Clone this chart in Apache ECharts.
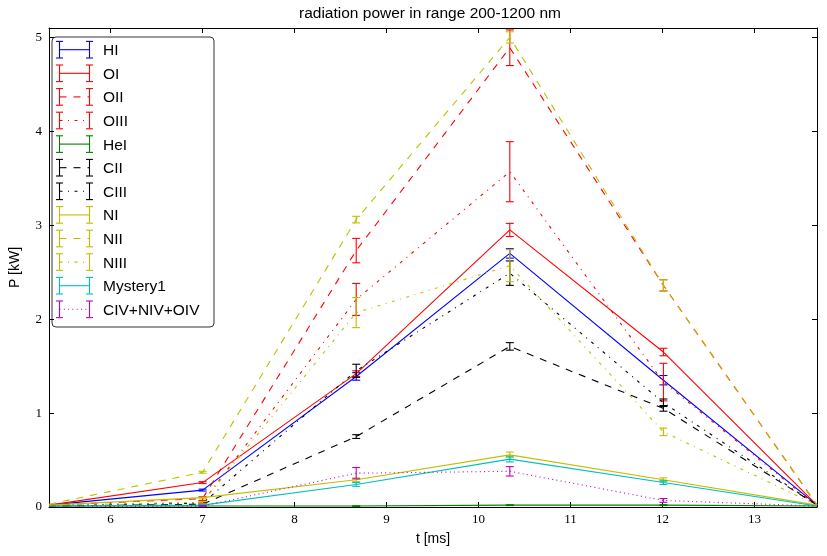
<!DOCTYPE html>
<html>
<head>
<meta charset="utf-8">
<script src="https://cdn.jsdelivr.net/npm/echarts@6/dist/echarts.min.js"></script>
<style>
html,body{margin:0;padding:0;background:#fff;}
#chart{width:827px;height:556px;}
</style>
</head>
<body>
<div id="chart"></div>
<script>
// ---- data ----
const tMs = [5.33, 7.0, 8.67, 10.34, 12.01, 13.68];
const seriesNames = ['HI','OI','OII','OIII','HeI','CII','CIII','NI','NII','NIII','Mystery1','CIV+NIV+OIV'];

const HI        = [0.02, 0.18, 1.39, 2.70, 1.35, 0.02];
const HI_err    = [0, 0.01, 0.04, 0.05, 0.05, 0];
const OI        = [0.02, 0.26, 1.42, 2.95, 1.65, 0.02];
const OI_err    = [0, 0.01, 0.03, 0.07, 0.04, 0];
const OII       = [0.02, 0.09, 2.73, 4.89, 2.36, 0.02];
const OII_err   = [0, 0.02, 0.13, 0.19, 0.06, 0];
const OIII      = [0.01, 0.05, 2.21, 3.57, 1.33, 0.01];
const OIII_err  = [0, 0.02, 0.17, 0.32, 0.20, 0];
const HeI       = [0.01, 0.01, 0.01, 0.02, 0.02, 0.01];
const HeI_err   = [0, 0.003, 0.004, 0.005, 0.005, 0];
const CII       = [0.01, 0.03, 0.75, 1.71, 1.05, 0.02];
const CII_err   = [0, 0.01, 0.02, 0.04, 0.03, 0];
const CIII      = [0.02, 0.04, 1.45, 2.49, 1.11, 0.02];
const CIII_err  = [0, 0.01, 0.07, 0.13, 0.04, 0];
const NI        = [0.02, 0.10, 0.29, 0.555, 0.29, 0.02];
const NI_err    = [0, 0.005, 0.02, 0.03, 0.02, 0];
const NII       = [0.03, 0.37, 3.06, 5.00, 2.36, 0.02];
const NII_err   = [0, 0.01, 0.035, 0.06, 0.06, 0];
const NIII      = [0.02, 0.05, 2.07, 2.57, 0.80, 0.02];
const NIII_err  = [0, 0.01, 0.16, 0.17, 0.04, 0];
const Mystery1  = [0.01, 0.02, 0.24, 0.51, 0.26, 0.01];
const Myst_err  = [0, 0.005, 0.02, 0.03, 0.02, 0];
const CNOIV     = [0.00, 0.01, 0.36, 0.38, 0.07, 0.01];
const CNOIV_err = [0, 0.005, 0.06, 0.05, 0.02, 0];

const xTickLabels = ['6','7','8','9','10','11','12','13'];
const yTickLabels = ['0','1','2','3','4','5'];

// ---- styles ----
const DASHED = [7,7], DASHDOT = [3,5.5,1,5.5], DOTTED = [1,3.3];
const styleDefs = [
  {c:'#0000ff', d:'solid'},
  {c:'#ff0000', d:'solid'},
  {c:'#ff0000', d:DASHED},
  {c:'#ff0000', d:DASHDOT},
  {c:'#008000', d:'solid'},
  {c:'#000000', d:DASHED},
  {c:'#000000', d:DASHDOT},
  {c:'#bfbf00', d:'solid'},
  {c:'#bfbf00', d:DASHED},
  {c:'#bfbf00', d:DASHDOT},
  {c:'#00bfbf', d:'solid'},
  {c:'#bf00bf', d:DOTTED}
];
const valuesList = [HI,OI,OII,OIII,HeI,CII,CIII,NI,NII,NIII,Mystery1,CNOIV];
const errList = [HI_err,OI_err,OII_err,OIII_err,HeI_err,CII_err,CIII_err,NI_err,NII_err,NIII_err,Myst_err,CNOIV_err];

const X_MIN = 5.33, X_MAX = 13.68, Y_MIN = 0, Y_MAX = 5.1;
const SANS = 'Liberation Sans';
const SERIF = 'Liberation Serif';

const chart = echarts.init(document.getElementById('chart'), null, {renderer:'canvas'});

const series = [];
seriesNames.forEach((name, i) => {
  const st = styleDefs[i];
  series.push({
    type: 'line', name: name,
    data: tMs.map((t, k) => [t, valuesList[i][k]]),
    showSymbol: false, symbol: 'none',
    lineStyle: {color: st.c, width: 1.1, type: st.d},
    itemStyle: {color: st.c},
    z: 2 + i*0.01,
    silent: true, animation: false
  });
  series.push({
    type: 'custom', name: name + '_err',
    data: tMs.map((t, k) => [t, valuesList[i][k], errList[i][k]]),
    clip: false,
    renderItem: function (params, api) {
      const x = api.value(0), y = api.value(1), e = api.value(2);
      if (!(e > 0)) return {type: 'group', children: []};
      const lo = api.coord([x, y - e]);
      const hi = api.coord([x, y + e]);
      const cw = 4;
      const s = {stroke: st.c, lineWidth: 1.1};
      return {
        type: 'group',
        children: [
          {type: 'line', shape: {x1: lo[0], y1: lo[1], x2: hi[0], y2: hi[1]}, style: s},
          {type: 'line', shape: {x1: lo[0]-cw, y1: lo[1], x2: lo[0]+cw, y2: lo[1]}, style: s},
          {type: 'line', shape: {x1: hi[0]-cw, y1: hi[1], x2: hi[0]+cw, y2: hi[1]}, style: s}
        ]
      };
    },
    z: 2 + i*0.01 + 0.005,
    silent: true, animation: false
  });
});

// ---- legend drawn as graphic ----
const legendChildren = [{
  type: 'rect', shape: {x: 52, y: 37, width: 162, height: 290, r: 4},
  style: {fill: '#fff', stroke: '#333', lineWidth: 1}
}];
seriesNames.forEach((name, i) => {
  const st = styleDefs[i];
  const cy = 49.7 + i*23.6;
  const xl = 59.5, xr = 89.5, h = 8.3, cw = 3.5;
  const s = {stroke: st.c, lineWidth: 1.1};
  const dash = Array.isArray(st.d) ? st.d : null;
  legendChildren.push(
    {type: 'line', shape: {x1: xl, y1: cy, x2: xr, y2: cy}, style: Object.assign({}, s, dash ? {lineDash: dash} : {})},
    {type: 'line', shape: {x1: xl, y1: cy-h, x2: xl, y2: cy+h}, style: s},
    {type: 'line', shape: {x1: xr, y1: cy-h, x2: xr, y2: cy+h}, style: s},
    {type: 'line', shape: {x1: xl-cw, y1: cy-h, x2: xl+cw, y2: cy-h}, style: s},
    {type: 'line', shape: {x1: xl-cw, y1: cy+h, x2: xl+cw, y2: cy+h}, style: s},
    {type: 'line', shape: {x1: xr-cw, y1: cy-h, x2: xr+cw, y2: cy-h}, style: s},
    {type: 'line', shape: {x1: xr-cw, y1: cy+h, x2: xr+cw, y2: cy+h}, style: s},
    {type: 'text', x: 103, y: cy + 1.3, style: {text: name, fill: '#000', font: '15.5px "' + SANS + '"', textAlign: 'left', textVerticalAlign: 'middle'}}
  );
});

const commonX = {
  type: 'value', min: X_MIN, max: X_MAX, splitNumber: 8, minInterval: 1, maxInterval: 1,
  axisLine: {show: true, onZero: false, lineStyle: {color: '#000', width: 1}},
  axisTick: {show: true, inside: true, length: 5, lineStyle: {color: '#000', width: 1}},
  splitLine: {show: false}
};
const commonY = {
  type: 'value', min: Y_MIN, max: Y_MAX, interval: 1,
  axisLine: {show: true, onZero: false, lineStyle: {color: '#000', width: 1}},
  axisTick: {show: true, inside: true, length: 5, lineStyle: {color: '#000', width: 1}},
  splitLine: {show: false}
};

const option = {
  animation: false,
  backgroundColor: '#fff',
  grid: {left: 42, right: 10, top: 28, bottom: 49, containLabel: false},
  xAxis: [
    Object.assign({}, commonX, {
      position: 'bottom',
      name: 't [ms]', nameLocation: 'middle', nameGap: 25,
      nameTextStyle: {fontFamily: SANS, fontSize: 14, color: '#000'},
      axisLabel: {show: true, showMinLabel: false, showMaxLabel: false, margin: 6, color: '#000', fontFamily: SERIF, fontSize: 13,
        formatter: v => { const s = String(Math.round(v)); return (Math.abs(v - Math.round(v)) < 1e-6 && xTickLabels.indexOf(s) >= 0) ? s : ''; } }
    }),
    Object.assign({}, commonX, {position: 'top', axisLabel: {show: false}})
  ],
  yAxis: [
    Object.assign({}, commonY, {
      position: 'left',
      name: 'P [kW]', nameLocation: 'middle', nameGap: 27,
      nameTextStyle: {fontFamily: SANS, fontSize: 14, color: '#000'},
      axisLabel: {show: true, showMaxLabel: false, margin: 7, color: '#000', fontFamily: SERIF, fontSize: 13,
        formatter: v => { const s = String(Math.round(v)); return (Math.abs(v - Math.round(v)) < 1e-6 && yTickLabels.indexOf(s) >= 0) ? s : ''; } }
    }),
    Object.assign({}, commonY, {position: 'right', axisLabel: {show: false}})
  ],
  graphic: [
    {type: 'text', x: 430, y: 14, style: {text: 'radiation power in range 200-1200 nm', fill: '#000', font: '15.5px "' + SANS + '"', textAlign: 'center', textVerticalAlign: 'middle'}, z: 10},
    {type: 'group', children: legendChildren, z: 100}
  ],
  series: series
};
chart.setOption(option);
</script>
</body>
</html>
